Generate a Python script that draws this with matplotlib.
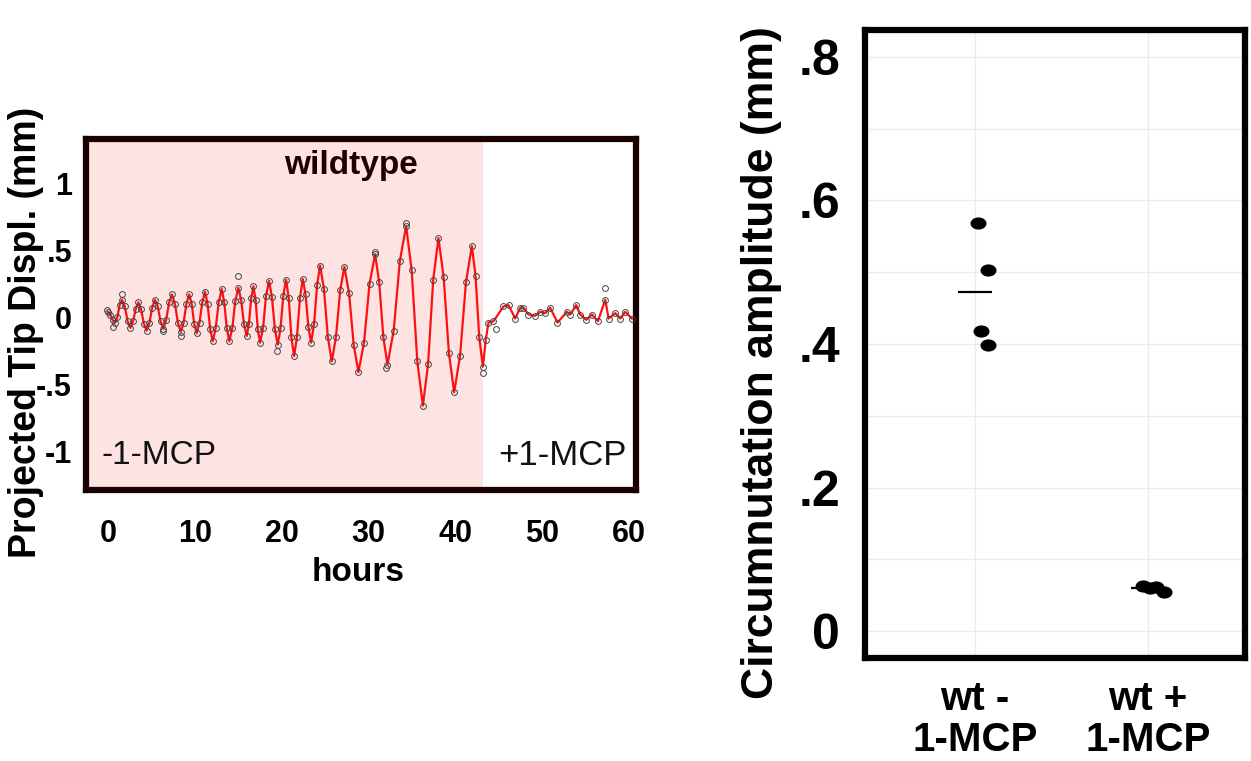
import numpy as np
import matplotlib
matplotlib.use("Agg")
import matplotlib.pyplot as plt
from matplotlib.path import Path
from matplotlib.transforms import Affine2D

plt.rcParams['font.family'] = ['Liberation Sans', 'DejaVu Sans']

# ---------------- data: left panel (time series) ----------------
hours = [0.00, 0.27, 0.54, 0.81, 1.08, 1.34, 1.61, 1.94, 2.26, 2.59, 2.89, 3.19,
         3.49, 3.81, 4.14, 4.46, 4.78, 5.09, 5.41, 5.73, 6.05, 6.37, 6.70, 7.04,
         7.37, 7.71, 8.05, 8.39, 8.71, 9.03, 9.35, 9.64, 9.93, 10.22, 10.54, 10.86,
         11.18, 11.47, 11.77, 12.06, 12.41, 12.75, 13.10, 13.39, 13.68, 13.97, 14.32, 14.66,
         15.01, 15.33, 15.66, 15.98, 16.23, 16.49, 16.74, 17.00, 17.25, 17.51, 17.86, 18.20,
         18.55, 18.88, 19.22, 19.55, 19.87, 20.19, 20.51, 20.82, 21.12, 21.43, 21.76, 22.10,
         22.43, 22.75, 23.07, 23.39, 23.73, 24.08, 24.42, 24.87, 25.32, 25.77, 26.25, 26.74,
         27.22, 27.76, 28.30, 28.84, 29.48, 30.12, 30.76, 31.23, 31.71, 32.18, 32.90, 33.61,
         34.33, 34.97, 35.62, 36.26, 36.86, 37.45, 38.05, 38.65, 39.26, 39.86, 40.54, 41.22,
         41.90, 42.32, 42.75, 43.17, 43.50,
         43.81, 44.39, 45.54, 46.12, 46.89, 47.47, 47.84, 48.42, 49.19, 49.77, 50.35, 50.92,
         51.76, 52.85, 53.23, 53.92, 54.38, 55.07, 55.72, 56.42, 57.26, 57.64, 58.41, 58.99,
         59.56, 60.33]
displacement = [0.04, 0.02, -0.02, -0.04, 0.00, 0.09, 0.13, 0.08, -0.03, -0.08, -0.03, 0.06,
                0.11, 0.06, -0.05, -0.10, -0.04, 0.07, 0.13, 0.08, -0.03, -0.085, -0.02, 0.11,
                0.17, 0.10, -0.04, -0.11, -0.04, 0.10, 0.17, 0.10, -0.05, -0.12, -0.04, 0.11,
                0.19, 0.10, -0.09, -0.18, -0.08, 0.11, 0.21, 0.11, -0.08, -0.18, -0.08, 0.12,
                0.22, 0.13, -0.05, -0.14, -0.05, 0.14, 0.23, 0.13, -0.09, -0.19, -0.08, 0.16,
                0.27, 0.15, -0.09, -0.205, -0.08, 0.16, 0.28, 0.14, -0.15, -0.29, -0.15, 0.14,
                0.285, 0.17, -0.07, -0.19, -0.05, 0.24, 0.385, 0.21, -0.15, -0.33, -0.15, 0.20,
                0.375, 0.18, -0.21, -0.41, -0.19, 0.25, 0.47, 0.26, -0.15, -0.355, -0.10, 0.42,
                0.68, 0.35, -0.33, -0.66, -0.35, 0.28, 0.59, 0.30, -0.27, -0.56, -0.29, 0.26,
                0.53, 0.31, -0.15, -0.37, -0.17,
                -0.04, -0.03, 0.08, 0.09, -0.01, 0.07, 0.07, 0.02, 0.01, 0.04, 0.03, 0.07,
                -0.04, 0.04, 0.02, 0.09, 0.02, -0.02, 0.02, -0.03, 0.13, -0.01, 0.03, -0.01,
                0.04, -0.01]
# extra observed points lying off the fitted curve
outlier_hours = [-0.15, 0.61, 1.58, 6.37, 8.37, 15.01, 19.44, 30.76, 32.03, 34.33, 43.24, 44.70, 57.26]
outlier_disp = [0.05, -0.07, 0.17, -0.105, -0.14, 0.31, -0.255, 0.49, -0.38, 0.70, -0.42, -0.09, 0.22]
mcp_start = 43.2
x_ticks = [0, 10, 20, 30, 40, 50, 60]
y_ticks_left = [-1, -0.5, 0, 0.5, 1]
y_ticklabels_left = ['-1', '-.5', '0', '.5', '1']

# ---------------- data: right panel (amplitudes) ----------------
groups = ['wt -\n1-MCP', 'wt +\n1-MCP']
amp_minus = [0.568, 0.503, 0.418, 0.399]
amp_plus = [0.063, 0.060, 0.062, 0.054]
jitter_minus = [0.017, 0.075, 0.037, 0.075]
jitter_plus = [-0.03, 0.01, 0.048, 0.09]
y_ticks_right = [0, 0.2, 0.4, 0.6, 0.8]
y_ticklabels_right = ['0', '.2', '.4', '.6', '.8']

assert len(hours) == len(displacement)

W, H = 1251, 761
fig = plt.figure(figsize=(W / 100, H / 100), dpi=100)

def rect(l, r, t, b):
    return [l / W, (H - b) / H, (r - l) / W, (b - t) / H]

# ---------------- left panel ----------------
frame_col = '#1a0000'
ax1 = fig.add_axes(rect(86, 636, 139, 490))
ax1.set_xlim(-2.53, 60.8)
ax1.set_ylim(-1.29, 1.33)
ax1.axvspan(-5, mcp_start, color='#fee3e3', zorder=0, lw=0)
ax1.plot(hours, displacement, color='#ff1010', lw=1.6, zorder=3)
ax1.plot(hours, displacement, ls='none', marker='o', ms=4.2, mfc='none',
         mec='#444444', mew=0.7, zorder=4)
ax1.plot(outlier_hours, outlier_disp, ls='none', marker='o', ms=4.2, mfc='none',
         mec='#444444', mew=0.7, zorder=4)
for s in ax1.spines.values():
    s.set_linewidth(4.5)
    s.set_color(frame_col)
ax1.set_xticks(x_ticks)
ax1.set_xticklabels([str(v) for v in x_ticks], fontsize=22, fontweight='bold')
ax1.set_yticks(y_ticks_left)
ax1.set_yticklabels(y_ticklabels_left, fontsize=22, fontweight='bold')
ax1.tick_params(axis='both', length=0)
ax1.tick_params(axis='x', pad=21)
ax1.tick_params(axis='y', pad=10)
ax1.set_xlabel('hours', fontsize=24, fontweight='bold')
ax1.xaxis.set_label_coords(0.494, -0.19)
ax1.text(28.0, 1.13, 'wildtype', fontsize=24, fontweight='bold', color='#220000',
         ha='center', va='center')
ax1.text(-0.8, -1.03, '-1-MCP', fontsize=24, ha='left', va='center', color='#111111')
ax1.text(59.7, -1.03, '+1-MCP', fontsize=25, ha='right', va='center', color='#111111')
fig.text(26 / W, 1 - 332 / H, 'Projected Tip Displ. (mm)', rotation=90, fontsize=27,
         fontweight='bold', ha='center', va='center')

# ---------------- right panel ----------------
ax2 = fig.add_axes(rect(865, 1245, 30, 658))
ax2.set_xlim(0.364, 2.56)
ax2.set_ylim(-0.0376, 0.8376)
ax2.set_yticks(y_ticks_right)
ax2.set_yticklabels(y_ticklabels_right, fontsize=36, fontweight='bold')
ax2.set_yticks(np.arange(0.1, 0.8, 0.2), minor=True)
ax2.set_xticks([1, 2])
ax2.set_xticklabels(groups, fontsize=29, fontweight='bold', linespacing=1.1)
ax2.tick_params(axis='both', which='both', length=0)
ax2.tick_params(axis='y', pad=18)
ax2.tick_params(axis='x', pad=16)
ax2.grid(True, which='both', color='#ebebeb', lw=1.0)
ax2.set_axisbelow(True)
for s in ax2.spines.values():
    s.set_linewidth(4.5)
    s.set_color('black')

ell = Path.unit_circle().transformed(Affine2D().scale(1.35, 1.0))
xm = [1 + j for j in jitter_minus]
xp = [2 + j for j in jitter_plus]
ax2.plot(xm, amp_minus, ls='none', marker=ell, ms=10.5, color='black', zorder=3)
ax2.plot(xp, amp_plus, ls='none', marker=ell, ms=10.5, color='black', zorder=3)
ax2.hlines([np.mean(amp_minus)], 0.9, 1.1, color='black', lw=1.6, zorder=3)
ax2.hlines([np.mean(amp_plus)], 1.9, 2.1, color='black', lw=1.6, zorder=3)
fig.text(762 / W, 1 - 363 / H, 'Circumnutation amplitude (mm)', rotation=90, fontsize=32,
         fontweight='bold', ha='center', va='center')

fig.savefig('out.png', dpi=100)
